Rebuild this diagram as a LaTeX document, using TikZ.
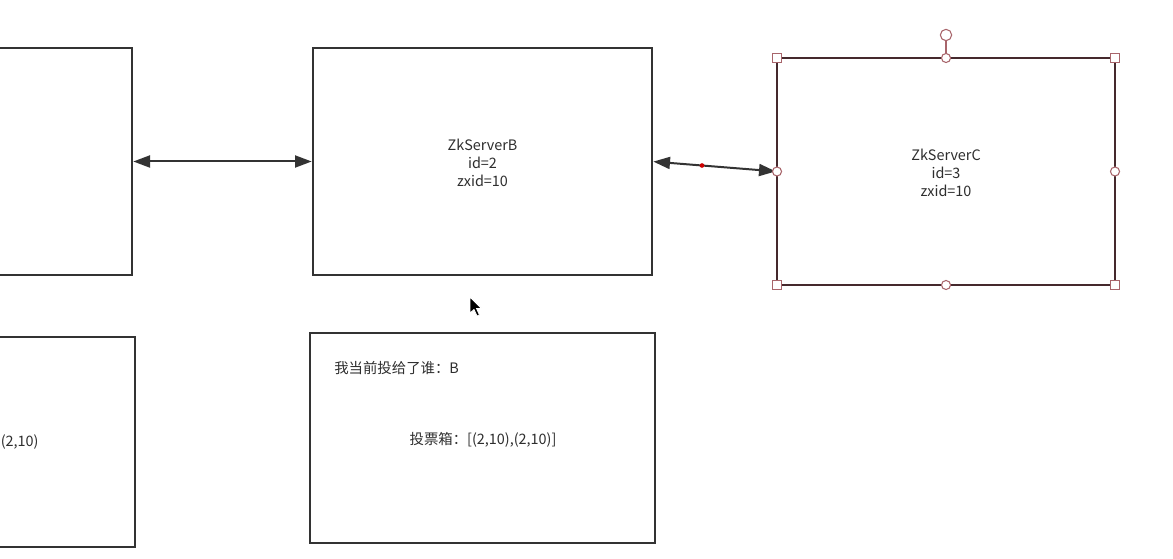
\documentclass[tikz,border=0pt]{standalone}
\usepackage{fontspec}
\setmainfont{Noto Sans CJK SC}
\usetikzlibrary{arrows.meta,calc}
\definecolor{boxline}{HTML}{333333}
\definecolor{selline}{HTML}{45292D}
\definecolor{handle}{HTML}{A8656B}
\definecolor{txt}{HTML}{2E2E2E}
\tikzset{
  box/.style={draw=boxline, line width=1.5pt, inner sep=0pt, outer sep=0pt, fill=white},
  link/.style={draw=boxline, line width=1.5pt, {Triangle[length=12.5pt,width=9pt]}-{Triangle[length=12.5pt,width=9pt]}, shorten <=1pt, shorten >=1pt},
  lbl/.style={font=\fontsize{10.8pt}{13.5pt}\selectfont, text=txt, align=center, inner sep=0pt},
  sq/.style={draw=handle, fill=white, line width=0.8pt, minimum size=7pt, inner sep=0pt},
  rd/.style={draw=handle, fill=white, line width=0.8pt, circle, minimum size=6.8pt, inner sep=0pt},
}
\begin{document}
\begin{tikzpicture}[x=0.75pt,y=-0.75pt]
\useasboundingbox (0,0) rectangle (1173,559);
\clip (0,0) rectangle (1173,559);
% top row
\node[box, minimum width=114pt, minimum height=170.25pt] (A) at (56,161.5) {};
\node[box, minimum width=254.25pt, minimum height=170.25pt] (B) at (482.5,161.5) {};
\node[box, draw=selline, minimum width=253.5pt, minimum height=170.25pt] (C) at (946,171.5) {};
\node[lbl] (Bt) at (482.5,163) {ZkServerB\\id=2\\zxid=10};
\node[lbl] (Ct) at (946,172.5) {ZkServerC\\id=3\\zxid=10};
% connectors
\draw[link] (A.east) -- (B.west);
\draw[link] (B.east) -- (C.west) node[pos=0.4, circle, fill=red!80!black, inner sep=0pt, minimum size=3.5pt] (dot) {};
% bottom row
\node[box, minimum width=116.25pt, minimum height=157.5pt] (D) at (57.5,442) {};
\node[box, minimum width=258.75pt, minimum height=157.5pt] (E) at (482.5,438) {};
\node[lbl, anchor=west] (Dt) at (0.5,442) {(2,10)};
\node[lbl, anchor=west] (Et1) at (334,368) {我当前投给了谁：B};
\node[lbl] (Et2) at (483,440) {投票箱：[(2,10),(2,10)]};
% selection handles on C
\coordinate (rot) at (946,35);
\draw[handle, line width=0.8pt] (C.north) -- (rot);
\node[rd, minimum size=8.5pt] (rh) at (rot) {};
\foreach \a in {north west,north east,south west,south east}{\node[sq] at (C.\a) {};}
\foreach \a in {north,south,east,west}{\node[rd] at (C.\a) {};}
% mouse cursor
\fill[black, draw=white, line width=0.6pt] (470,297) -- (470,313) -- (474,309.5) -- (477,316) -- (479.5,315) -- (476.5,308.5) -- (481.5,308.5) -- cycle;
\end{tikzpicture}
\end{document}
